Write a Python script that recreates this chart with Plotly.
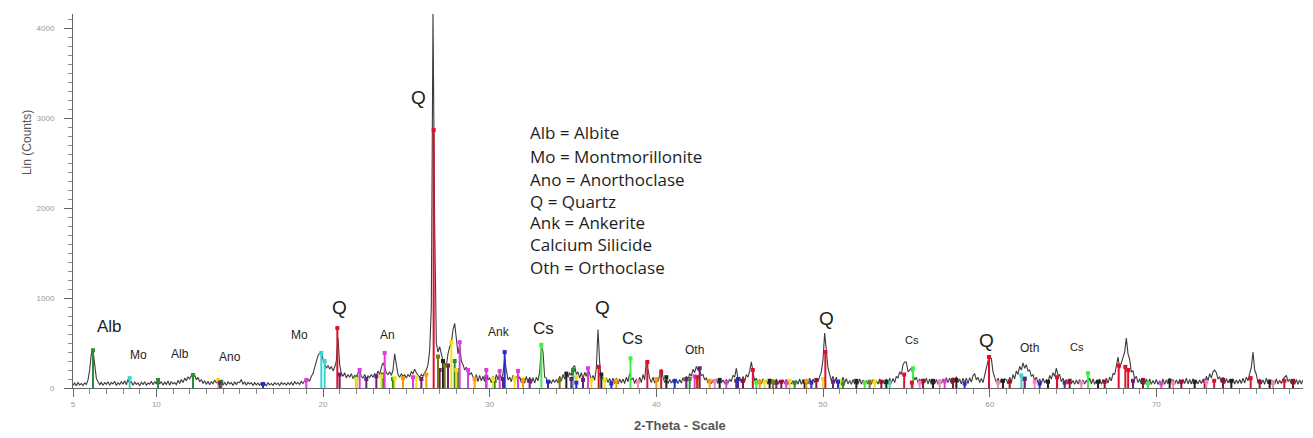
import plotly.graph_objects as go

# ---------------- measured XRD scan: 2-theta from 5.0 in 0.1 deg steps ----------------
scan_start = 5.0
scan_step = 0.1
counts = [
    # 5
    30, 55, 25, 60, 35, 50, 28, 58, 40, 90,
    # 6
    200, 380, 420, 260, 110, 70, 35, 65, 30, 60,
    # 7
    40, 70, 30, 62, 45, 75, 28, 60, 38, 70,
    # 8
    42, 80, 35, 95, 50, 70, 30, 66, 40, 58,
    # 9
    25, 64, 38, 70, 30, 55, 42, 75, 35, 68,
    # 10
    50, 90, 45, 70, 32, 66, 40, 78, 30, 72,
    # 11
    45, 60, 38, 85, 50, 95, 60, 110, 80, 125,
    # 12
    100, 140, 110, 145, 90, 120, 70, 95, 50, 80,
    # 13
    40, 75, 35, 70, 48, 90, 55, 85, 40, 72,
    # 14
    35, 62, 30, 68, 45, 60, 28, 70, 40, 66,
    # 15
    60, 95, 40, 70, 30, 62, 45, 58, 28, 60,
    # 16
    35, 55, 30, 60, 40, 52, 25, 58, 35, 50,
    # 17
    30, 60, 38, 55, 28, 62, 40, 56, 32, 60,
    # 18
    38, 64, 30, 70, 45, 62, 40, 75, 50, 80,
    # 19
    60, 95, 80, 130, 160, 230, 300, 360, 390, 395,
    # 20
    320, 260, 220, 250, 210, 240, 190, 230, 300, 560,
    # 21
    260, 160, 130, 170, 110, 150, 120, 160, 105, 140,
    # 22
    120, 170, 200, 130, 110, 150, 100, 135, 115, 150,
    # 23
    120, 160, 140, 190, 150, 230, 280, 240, 170, 150,
    # 24
    180, 140, 200, 380, 250, 150, 120, 160, 130, 145,
    # 25
    110, 150, 125, 180, 160, 210, 170, 140, 120, 150,
    # 26
    130, 170, 200, 260, 420, 900, 4180, 1800, 500, 400,
    # 27
    460, 380, 300, 280, 250, 380, 460, 500, 650, 720,
    # 28
    520, 380, 480, 300, 260, 200, 230, 180, 150, 170,
    # 29
    130, 80, 150, 70, 140, 80, 130, 70, 160, 90,
    # 30
    110, 60, 130, 70, 150, 90, 170, 100, 160, 330,
    # 31
    200, 90, 120, 70, 140, 75, 130, 90, 125, 60,
    # 32
    100, 55, 130, 60, 120, 50, 115, 55, 120, 80,
    # 33
    180, 470, 400, 120, 110, 55, 90, 50, 95, 60,
    # 34
    95, 55, 130, 80, 150, 100, 175, 120, 170, 140,
    # 35
    230, 250, 150, 180, 110, 170, 100, 175, 130, 215,
    # 36
    160, 90, 140, 85, 220, 650, 280, 90, 120, 60,
    # 37
    115, 60, 105, 55, 110, 50, 110, 45, 100, 55,
    # 38
    100, 50, 120, 70, 160, 90, 110, 50, 100, 45,
    # 39
    120, 60, 150, 90, 300, 200, 110, 60, 120, 55,
    # 40
    110, 70, 150, 210, 120, 60, 100, 50, 95, 55,
    # 41
    90, 45, 95, 50, 95, 55, 115, 70, 130, 90,
    # 42
    160, 130, 210, 170, 240, 200, 190, 140, 150, 90,
    # 43
    110, 55, 95, 50, 90, 45, 100, 50, 90, 55,
    # 44
    90, 50, 95, 55, 100, 70, 140, 120, 220, 100,
    # 45
    120, 60, 130, 70, 150, 120, 190, 290, 180, 80,
    # 46
    110, 50, 95, 45, 100, 50, 85, 40, 100, 45,
    # 47
    95, 40, 100, 45, 85, 40, 90, 50, 95, 40,
    # 48
    95, 45, 80, 40, 85, 45, 100, 40, 95, 50,
    # 49
    95, 45, 110, 55, 100, 60, 100, 70, 130, 180,
    # 50
    320, 610, 420, 220, 150, 80, 130, 60, 120, 55,
    # 51
    95, 50, 120, 55, 105, 45, 85, 40, 95, 45,
    # 52
    80, 40, 100, 45, 90, 40, 85, 45, 75, 40,
    # 53
    95, 40, 80, 45, 100, 50, 85, 40, 100, 45,
    # 54
    110, 55, 105, 60, 130, 110, 180, 150, 260, 290,
    # 55
    290, 180, 200, 220, 150, 90, 120, 60, 100, 50,
    # 56
    100, 55, 110, 45, 100, 40, 90, 45, 95, 40,
    # 57
    95, 50, 100, 45, 115, 60, 110, 50, 115, 60,
    # 58
    125, 60, 100, 45, 110, 55, 110, 50, 115, 65,
    # 59
    135, 160, 90, 120, 60, 105, 60, 150, 230, 300,
    # 60
    345, 330, 180, 120, 60, 110, 50, 105, 50, 100,
    # 61
    95, 45, 120, 60, 150, 100, 190, 150, 240, 200,
    # 62
    280, 220, 260, 190, 200, 130, 150, 80, 120, 60,
    # 63
    100, 50, 110, 55, 95, 60, 140, 100, 170, 130,
    # 64
    220, 140, 150, 70, 110, 50, 95, 45, 100, 45,
    # 65
    85, 40, 90, 45, 95, 40, 90, 45, 85, 50,
    # 66
    110, 45, 100, 40, 85, 45, 100, 40, 95, 50,
    # 67
    110, 55, 120, 80, 160, 150, 250, 345, 220, 280,
    # 68
    350, 400, 555, 380, 320, 180, 190, 100, 130, 60,
    # 69
    100, 45, 95, 40, 100, 45, 100, 40, 85, 45,
    # 70
    95, 40, 80, 45, 100, 40, 90, 45, 110, 50,
    # 71
    95, 40, 90, 45, 95, 40, 95, 50, 110, 45,
    # 72
    95, 45, 105, 40, 85, 45, 90, 50, 95, 55,
    # 73
    130, 80, 160, 110, 180, 200, 170, 100, 125, 60,
    # 74
    120, 50, 105, 55, 95, 40, 100, 45, 90, 50,
    # 75
    95, 50, 110, 55, 120, 80, 160, 230, 400, 200,
    # 76
    150, 60, 100, 45, 90, 40, 110, 45, 95, 40,
    # 77
    85, 40, 100, 45, 85, 50, 100, 120, 140, 70,
    # 78
    100, 45, 90, 40, 95, 40, 90, 45, 90,
]
two_theta = [round(scan_start + scan_step * i, 2) for i in range(len(counts))]

# ---------------- reference stick patterns (position, height) ----------------
alb_pos = [6.2, 10.1, 12.2, 13.9, 22.0, 23.6, 24.2, 27.9, 28.1, 30.3, 35.0, 42.0, 48.3, 51.2]
alb_int = [420, 90, 145, 70, 120, 150, 100, 300, 200, 80, 200, 100, 60, 50]

mo_pos = [8.4, 19.9, 20.1, 35.0, 54.0, 61.9, 62.1]
mo_int = [110, 390, 300, 120, 60, 140, 110]

ano_pos = [13.7, 22.0, 23.5, 24.3, 25.6, 27.7, 28.0, 30.2, 31.5, 35.2, 36.1, 36.9, 41.8, 42.5, 44.8, 46.5, 48.0, 50.0, 51.0, 53.1]
ano_int = [90, 100, 130, 110, 120, 510, 200, 100, 110, 120, 90, 90, 90, 80, 80, 70, 80, 100, 80, 70]

q_pos = [20.86, 26.64, 36.54, 39.46, 40.29, 42.45, 45.79, 50.14, 54.87, 55.33, 59.96, 64.04, 67.74, 68.14, 68.31, 73.47, 75.66, 77.68]
q_int = [667, 2870, 235, 290, 180, 120, 200, 400, 150, 60, 345, 120, 250, 235, 200, 80, 110, 80]

ank_pos = [16.4, 30.9, 33.5, 35.2, 37.3, 41.1, 44.9, 49.3, 50.9, 58.5, 63.0]
ank_int = [45, 400, 70, 60, 50, 80, 100, 60, 70, 50, 50]

cs_pos = [33.1, 38.45, 46.0, 52.5, 55.4, 65.9, 69.5]
cs_int = [480, 330, 60, 60, 220, 165, 50]

oth_pos = [13.8, 21.0, 22.6, 23.2, 25.9, 27.0, 27.5, 29.8, 30.8, 32.4, 34.9, 35.6, 41.8, 42.6, 44.8, 47.2, 50.6, 62.1, 64.5, 68.6]
oth_int = [60, 150, 100, 130, 100, 200, 250, 120, 100, 80, 100, 90, 100, 220, 80, 60, 70, 100, 60, 80]

mag_pos = [19.0, 22.2, 23.7, 25.4, 28.2, 28.7, 29.8, 30.6, 31.7, 35.9, 42.3, 44.2, 47.8, 57.3, 70.3]
mag_int = [90, 200, 390, 120, 510, 200, 200, 190, 190, 220, 130, 60, 60, 80, 50]

blk_pos = [27.2, 34.6, 36.7, 40.6, 43.8, 46.8, 48.9, 52.0, 53.8, 56.6, 58.0, 60.8, 63.5, 66.5, 70.8, 72.3, 74.5, 76.8]
blk_int = [300, 160, 150, 120, 90, 80, 70, 80, 70, 80, 90, 80, 70, 70, 80, 70, 80, 70]

dred_pos = [45.2, 47.5, 49.6, 53.5, 56.0, 57.8, 61.2, 64.8, 66.9, 69.2, 71.5, 72.9, 74.0, 76.2, 78.2]
dred_int = [80, 70, 90, 70, 80, 90, 70, 80, 70, 90, 70, 80, 90, 70, 80]

org_pos = [24.8, 26.2, 29.1, 32.0, 37.6, 40.0, 43.2, 46.2, 49.0]
org_int = [110, 150, 100, 90, 80, 100, 80, 70, 80]

pink_pos = [38.9, 43.5, 55.8, 57.0, 60.5, 62.7, 65.5, 71.0, 73.0, 77.0]
pink_int = [70, 80, 60, 70, 60, 70, 60, 60, 70, 60]

olive_pos = [26.9, 27.3, 34.2, 47.0, 52.8]
olive_int = [350, 250, 90, 70, 70]

phases = [
    ("Albite", alb_pos, alb_int, "#2e8b3a"),
    ("Montmorillonite", mo_pos, mo_int, "#35d6d0"),
    ("Anorthoclase", ano_pos, ano_int, "#f2e20f"),
    ("Orthoclase", oth_pos, oth_int, "#6e1f78"),
    ("Magenta phase", mag_pos, mag_int, "#e03ce0"),
    ("Dark phase", blk_pos, blk_int, "#222222"),
    ("Dark red phase", dred_pos, dred_int, "#9b1030"),
    ("Orange phase", org_pos, org_int, "#ff9a00"),
    ("Pink phase", pink_pos, pink_int, "#ff80c0"),
    ("Olive phase", olive_pos, olive_int, "#7a7a10"),
    ("Ankerite", ank_pos, ank_int, "#2030d0"),
    ("Calcium Silicide", cs_pos, cs_int, "#3cf040"),
    ("Quartz", q_pos, q_int, "#e0102a"),
]

# ---------------- peak labels ----------------
label_text = ["Q", "Alb", "Mo", "Alb", "Ano", "Mo", "Q", "An", "Ank", "Cs", "Q", "Cs", "Oth", "Q", "Cs", "Q", "Oth", "Cs"]
label_x = [25.7, 7.2, 8.9, 11.4, 14.4, 18.6, 21.0, 23.84, 30.56, 33.2, 36.74, 38.54, 42.3, 50.18, 55.34, 59.78, 62.36, 65.24]
label_y = [3233, 689, 367, 378, 344, 589, 900, 589, 622, 667, 900, 556, 422, 778, 533, 533, 444, 456]
label_size = [19, 17, 12, 12, 12, 12, 19, 12, 12, 17, 19, 17, 12, 19, 11, 19, 12, 11]

# ---------------- key text ----------------
legend_lines = ["Alb = Albite", "Mo = Montmorillonite", "Ano = Anorthoclase", "Q = Quartz",
                "Ank = Ankerite", "Calcium Silicide", "Oth = Orthoclase"]
legend_y = [2844, 2578, 2322, 2078, 1844, 1600, 1344]

fig = go.Figure()
fig.add_trace(go.Scatter(
    x=two_theta, y=counts, mode="lines",
    line=dict(color="#3c3c3c", width=1.1), hoverinfo="skip", showlegend=False))

for name, pos, inten, color in phases:
    xs, ys = [], []
    for p, h in zip(pos, inten):
        xs += [p, p, None]
        ys += [0, h, None]
    fig.add_trace(go.Scatter(x=xs, y=ys, mode="lines", line=dict(color=color, width=2),
                             name=name, showlegend=False))
    fig.add_trace(go.Scatter(x=pos, y=inten, mode="markers",
                             marker=dict(color=color, size=4, symbol="square"),
                             name=name, showlegend=False))

for t, x, y, s in zip(label_text, label_x, label_y, label_size):
    fig.add_annotation(x=x, y=y, text=t, showarrow=False,
                       font=dict(family="Liberation Sans, Arial", size=s, color="#1e1e1e"))

for t, y in zip(legend_lines, legend_y):
    fig.add_annotation(x=32.35, y=y, xanchor="left", yanchor="middle", align="left",
                       text=t, showarrow=False, borderpad=0,
                       font=dict(family="Open Sans, Lato", size=17, color="#1e1e1e"))

# axis titles
fig.add_annotation(xref="paper", yref="paper", x=-0.0447, y=0.655, textangle=-90,
                   text="Lin (Counts)", showarrow=False,
                   font=dict(family="Liberation Sans, Arial", size=12, color="#555555"))
fig.add_annotation(xref="paper", yref="paper", x=0.4935, y=-0.1016, yanchor="middle",
                   text="<b>2-Theta - Scale</b>", showarrow=False,
                   font=dict(family="Liberation Sans, Arial", size=13, color="#555555"))

# page body has an 8 px margin, so the figure is sized to fit the 1313x438 window
fig.update_layout(
    width=1305, height=430,
    margin=dict(l=65, r=10, t=6, b=50),
    paper_bgcolor="white", plot_bgcolor="white",
    showlegend=False,
    xaxis=dict(range=[5, 78.8], showgrid=False, zeroline=False, automargin=False,
               showline=True, linecolor="#666666", linewidth=1,
               ticks="outside", ticklen=8, tickcolor="#666666",
               tickvals=[5, 10, 20, 30, 40, 50, 60, 70],
               tickfont=dict(family="Liberation Sans, Arial", size=8, color="#999999"),
               minor=dict(dtick=1, ticks="outside", ticklen=5, tickcolor="#888888")),
    yaxis=dict(range=[0, 4160], showgrid=False, zeroline=False, automargin=False,
               showline=True, linecolor="#666666", linewidth=1,
               ticks="outside", ticklen=8, tickcolor="#666666",
               tickvals=[0, 1000, 2000, 3000, 4000],
               tickfont=dict(family="Liberation Sans, Arial", size=8, color="#999999"),
               ticklabelstandoff=8,
               minor=dict(dtick=100, ticks="outside", ticklen=4, tickcolor="#888888")),
)

fig.write_html("out.html")
